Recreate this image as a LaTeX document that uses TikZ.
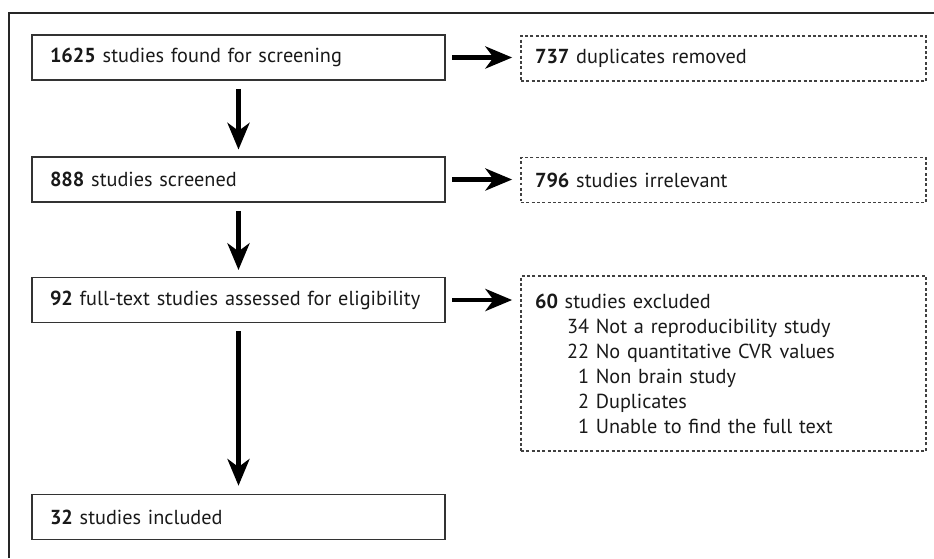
\documentclass[tikz,border=0pt]{standalone}
\usepackage{fontspec}
\setmainfont{PT Sans}
\usetikzlibrary{arrows.meta}
\begin{document}
\begin{tikzpicture}[x=0.75pt,y=-0.75pt,
  every node/.style={font=\fontsize{15.2pt}{18.75pt}\selectfont, text=black!90},
  solidbox/.style={draw=black!80, line width=1.2pt, minimum width=309.75pt, minimum height=33.75pt,
    inner xsep=13.5pt, text width=282.75pt, align=left},
  dashbox/.style={draw=black!75, line width=1.3pt, dash pattern=on 2.2pt off 1.8pt,
    minimum width=303.75pt, minimum height=33.75pt, inner xsep=10.5pt, text width=282.75pt, align=left},
  bigarrow/.style={line width=3.6pt, -{Stealth[length=20pt,width=16.5pt,inset=6pt]}}
]
\useasboundingbox (0,0) rectangle (934,558);
\draw[line width=1.8pt, black!85] (9,558) -- (9,13) -- (934,13);

\node[solidbox] (b1) at (238.5,57.5) {\textbf{1625} studies found for screening};
\node[solidbox] (b2) at (238.5,179.5) {\textbf{888} studies screened};
\node[solidbox] (b3) at (238.5,300) {\textbf{92} full-text studies assessed for eligibility};
\node[solidbox] (b4) at (238.5,517) {\textbf{32} studies included};

\node[dashbox] (d1) at (723.5,58.5) {\textbf{737} duplicates removed};
\node[dashbox] (d2) at (723.5,180) {\textbf{796} studies irrelevant};
\node[dashbox, minimum height=131.25pt] (d3) at (723.5,363.5) {\textbf{60} studies excluded\\
\hspace*{24pt}34 Not a reproducibility study\\
\hspace*{24pt}22 No quantitative CVR values\\
\hspace*{24pt}\hphantom{2}1 Non brain study\\
\hspace*{24pt}\hphantom{2}2 Duplicates\\
\hspace*{24pt}\hphantom{2}1 Unable to find the full text};

\draw[bigarrow, shorten <=6pt, shorten >=5pt] (b1) -- (b2);
\draw[bigarrow, shorten <=6pt, shorten >=5pt] (b2) -- (b3);
\draw[bigarrow, shorten <=6pt, shorten >=6pt] (b3) -- (b4);
\draw[bigarrow, shorten <=5pt, shorten >=6pt] (b1.east) -- (d1.west |- b1.east);
\draw[bigarrow, shorten <=5pt, shorten >=6pt] (b2.east) -- (d2.west |- b2.east);
\draw[bigarrow, shorten <=5pt, shorten >=6pt] (b3.east) -- (d3.west |- b3.east);
\end{tikzpicture}
\end{document}
